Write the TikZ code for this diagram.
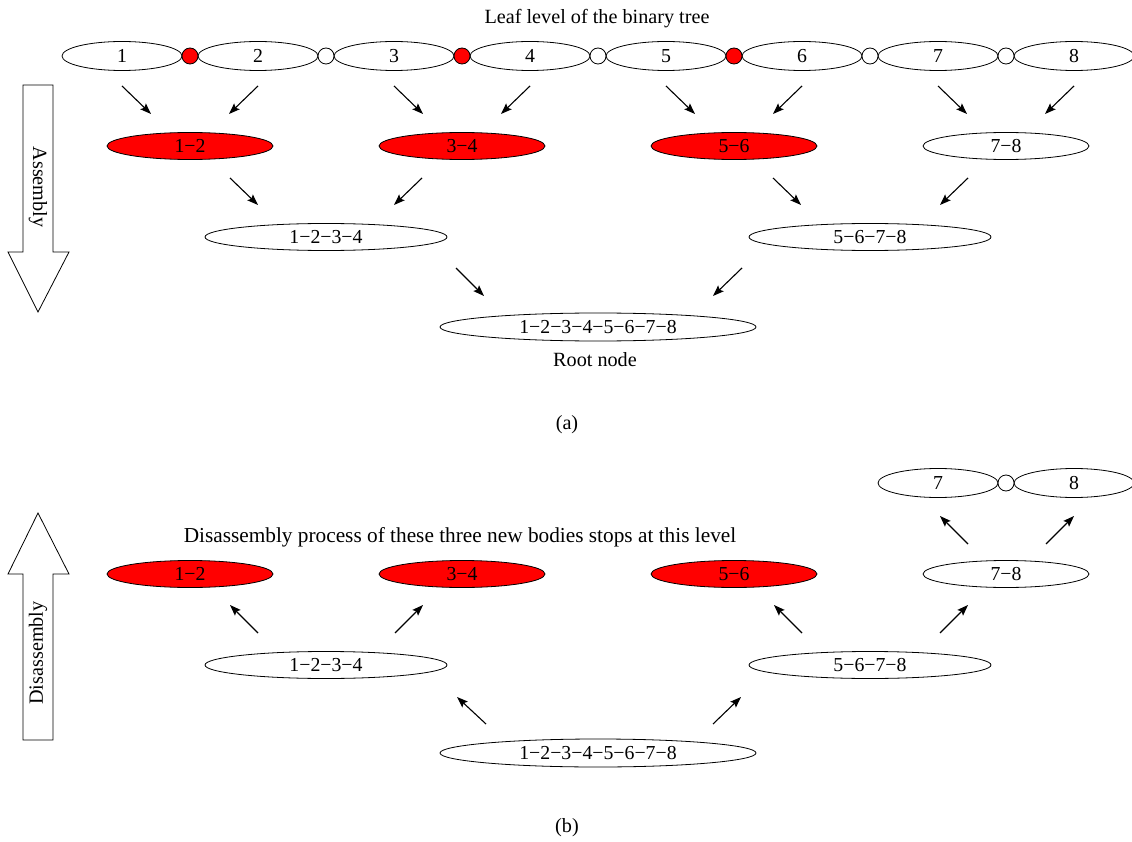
\documentclass[tikz,border=0pt]{standalone}
\usepackage{fontspec}
\setmainfont{Liberation Serif}
\usetikzlibrary{shapes.geometric,arrows.meta,calc}
\definecolor{bodyred}{RGB}{255,0,0}
\tikzset{
  base/.style={ellipse, draw, line width=0.8pt, inner sep=0pt, fill=white, font=\fontsize{19.8}{22}\selectfont},
  leaf/.style={base, minimum width=120, minimum height=29},
  joint/.style={circle, draw, line width=0.8pt, minimum size=16, inner sep=0pt, fill=white},
  redjoint/.style={joint, fill=bodyred},
  pair/.style={base, minimum width=166, minimum height=27},
  quad/.style={base, minimum width=242, minimum height=27},
  rootb/.style={base, minimum width=316, minimum height=28},
  red/.style={fill=bodyred},
  arr/.style={line width=1.1pt, -{Stealth[length=11pt,width=8pt,inset=2pt]}},
  lbl/.style={font=\fontsize{20.2}{22}\selectfont, inner sep=0pt},
  biglbl/.style={font=\fontsize{21.3}{24}\selectfont, inner sep=0pt},
  bigarrow/.style={draw, line width=0.8pt, fill=white}
}
\begin{document}
\begin{tikzpicture}[x=1pt,y=-1pt]
\useasboundingbox (0,0) rectangle (1132,842);
% ---------- (a) ----------
\node[lbl] (title) at (597,19) {Leaf level of the binary tree};
\foreach \i [evaluate=\i as \xx using {122+136*(\i-1)}] in {1,...,8}
  \node[leaf] (l\i) at (\xx,56) {\i};
\node[redjoint] (j12) at (190,56) {};
\node[joint] (j23) at (326,56) {};
\node[redjoint] (j34) at (462,56) {};
\node[joint] (j45) at (598,56) {};
\node[redjoint] (j56) at (734,56) {};
\node[joint] (j67) at (870,56) {};
\node[joint] (j78) at (1006,56) {};

\node[pair, red] (p12) at (190,146) {1−2};
\node[pair, red] (p34) at (462,146) {3−4};
\node[pair, red] (p56) at (734,146) {5−6};
\node[pair] (p78) at (1006,146) {7−8};

\node[quad] (q14) at (326,237) {1−2−3−4};
\node[quad] (q58) at (870,237) {5−6−7−8};

\node[rootb] (r) at (598,327) {1−2−3−4−5−6−7−8};
\node[lbl] (rootlbl) at (595,360) {Root node};
\node[lbl] (capa) at (567,425) {(a)};

\foreach \i in {1,3,5,7}
  \draw[arr] ($(l\i)+(0,30)$) -- ++(29,28);
\foreach \i in {2,4,6,8}
  \draw[arr] ($(l\i)+(0,30)$) -- ++(-29,28);
\draw[arr] ($(p12)+(40,32)$) -- ++(28,27);
\draw[arr] ($(p34)+(-40,32)$) -- ++(-28,27);
\draw[arr] ($(p56)+(39,32)$) -- ++(28,27);
\draw[arr] ($(p78)+(-38,32)$) -- ++(-28,27);
\draw[arr] ($(q14)+(130,31)$) -- ++(28,28);
\draw[arr] ($(q58)+(-128,31)$) -- ++(-29,28);

\draw[bigarrow] (23,85) -- (53,85) -- (53,252) -- (69,252) -- (38,312) -- (8,252) -- (23,252) -- cycle;
\node[lbl, rotate=-90] (asm) at (38,187) {Assembly};

% ---------- (b) ----------
\node[leaf] (b7) at (938,483) {7};
\node[leaf] (b8) at (1074,483) {8};
\node[joint] (bj78) at (1006,483) {};
\node[biglbl] (stop) at (460,537) {Disassembly process of these three new bodies stops at this level};

\node[pair, red] (bp12) at (190,574) {1−2};
\node[pair, red] (bp34) at (462,574) {3−4};
\node[pair, red] (bp56) at (734,574) {5−6};
\node[pair] (bp78) at (1006,574) {7−8};

\node[quad] (bq14) at (326,665) {1−2−3−4};
\node[quad] (bq58) at (870,665) {5−6−7−8};

\node[rootb] (br) at (598,753) {1−2−3−4−5−6−7−8};
\node[lbl] (capb) at (567,828) {(b)};

\draw[arr] ($(bq14)+(-68,-32)$) -- ++(-28,-28);
\draw[arr] ($(bq14)+(69,-32)$) -- ++(28,-28);
\draw[arr] ($(bq58)+(-68,-32)$) -- ++(-28,-28);
\draw[arr] ($(bq58)+(70,-32)$) -- ++(28,-28);
\draw[arr] ($(br)+(-112,-29)$) -- ++(-29,-27);
\draw[arr] ($(br)+(115,-29)$) -- ++(28,-27);
\draw[arr] ($(bp78)+(-38,-30)$) -- ++(-28,-28);
\draw[arr] ($(bp78)+(40,-30)$) -- ++(28,-28);

\draw[bigarrow] (38,513) -- (69,574) -- (53,574) -- (53,740) -- (23,740) -- (23,574) -- (8,574) -- cycle;
\node[lbl, rotate=90] (dis) at (38,653) {Disassembly};
\end{tikzpicture}
\end{document}
